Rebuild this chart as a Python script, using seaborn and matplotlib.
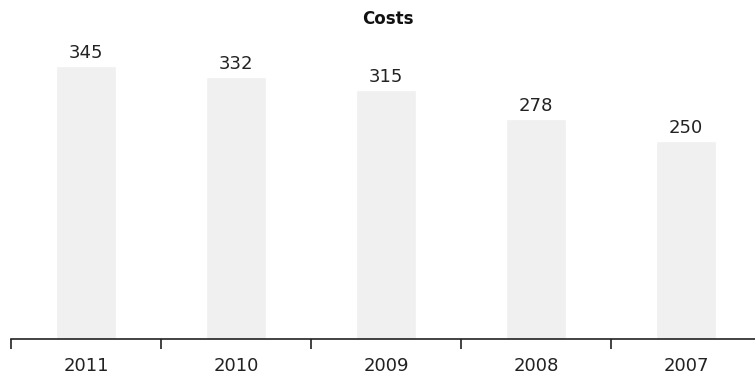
import matplotlib
matplotlib.use("Agg")
import matplotlib.pyplot as plt
import seaborn as sns
import pandas as pd
import numpy as np

years = ["2011", "2010", "2009", "2008", "2007"]
costs = [345, 332, 315, 278, 250]

df = pd.DataFrame({"year": years, "cost": costs})

sns.set_theme(style="white")
plt.rcParams["font.family"] = ["DejaVu Sans"]

fig = plt.figure(figsize=(7.55, 3.76), dpi=100)
ax = fig.add_axes([11 / 755, 37 / 376, 750 / 755, 316 / 376])

sns.barplot(data=df, x="year", y="cost", color="#f0f0f0", width=0.4,
            saturation=1, ax=ax)

for i, v in enumerate(costs):
    ax.annotate(f"{v}", (i, v), xytext=(0, 3), textcoords="offset points",
                ha="center", va="bottom", fontsize=13, color="#222222")

ax.set_xlim(-0.5, len(years) - 0.5)
ax.set_ylim(0, 400)
ax.set_xlabel("")
ax.set_ylabel("")
ax.set_yticks([])
for s in ["top", "right", "left"]:
    ax.spines[s].set_visible(False)
ax.spines["bottom"].set_color("#222222")
ax.spines["bottom"].set_linewidth(1.2)

# category boundaries as ticks, labels centered between them
ax.set_xticks(np.arange(len(years)))
ax.set_xticklabels(years)
ax.set_xticks(np.arange(len(years) + 1) - 0.5, minor=True)
ax.tick_params(axis="x", which="major", length=0, pad=13, labelsize=13,
               labelcolor="#222222")
ax.tick_params(axis="x", which="minor", length=7, width=1.2,
               color="#222222", direction="out", bottom=True)

fig.text(388 / 755, 1 - 19 / 376, "Costs", ha="center", va="center",
         fontsize=12, fontweight="bold", color="#111111")

fig.savefig("out.png", dpi=100)
